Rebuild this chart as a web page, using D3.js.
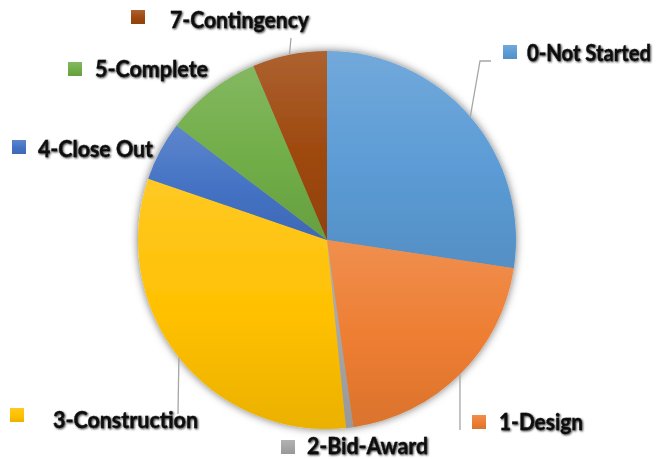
<!DOCTYPE html>
<html>
<head>
<meta charset="utf-8">
<script src="https://cdn.jsdelivr.net/npm/d3@7"></script>
<style>
  body { margin: 0; background: #fff; }
  svg { display: block; }
  .lbl { font-family: Lato, "Open Sans", sans-serif; font-weight: 700; font-size: 22.5px; fill: #0d0d0d; stroke: #0d0d0d; stroke-width: 0.35px; }
</style>
</head>
<body>
<svg id="chart" width="666" height="459"></svg>
<script>
"use strict";

// data (project counts by phase)
var phases = ["0-Not Started", "1-Design", "2-Bid-Award", "3-Construction", "4-Close Out", "5-Complete", "7-Contingency"]
var counts = [43, 32, 1, 50, 8, 13, 10]
var colors = ["#5B9BD5", "#ED7D31", "#A5A5A5", "#FFC000", "#4472C4", "#70AD47", "#9E480E"]

// label layout: text x / baseline, square x / y, text width, leader end points
var labelLayout = [
    {tx: 527, ty: 61, sx: 503, sy: 45, w: 124, leader: [[480, 61], [491, 61]]},
    {tx: 499, ty: 430, sx: 472, sy: 415, w: 84, leader: [[460, 430]]},
    {tx: 307, ty: 454, sx: 281, sy: 440, w: 121, leader: null},
    {tx: 53, ty: 428, sx: 10, sy: 408, w: 145, leader: [[178, 414]]},
    {tx: 38, ty: 157, sx: 12, sy: 140, w: 115, leader: null},
    {tx: 95, ty: 77, sx: 68, sy: 62, w: 113, leader: null},
    {tx: 170, ty: 28, sx: 131, sy: 10, w: 139, leader: [[291, 38]]}
]

var cx = 327, cy = 240, radius = 189

var svg = d3.select("#chart")
var defs = svg.append("defs")

var shadow = defs.append("filter").attr("id", "pieShadow")
    .attr("x", "-20%").attr("y", "-20%").attr("width", "140%").attr("height", "140%")
shadow.append("feDropShadow")
    .attr("dx", 0).attr("dy", 0).attr("stdDeviation", 4)
    .attr("flood-color", "#000").attr("flood-opacity", 0.55)

var glow = defs.append("filter").attr("id", "textGlow")
    .attr("x", "-5%").attr("y", "-30%").attr("width", "110%").attr("height", "160%")
glow.append("feGaussianBlur").attr("in", "SourceAlpha").attr("stdDeviation", 1.1).attr("result", "b")
glow.append("feOffset").attr("in", "b").attr("dx", 0.5).attr("dy", 0.8).attr("result", "o")
glow.append("feComponentTransfer").attr("in", "o").attr("result", "s")
    .append("feFuncA").attr("type", "linear").attr("slope", 0.8)
var merge = glow.append("feMerge")
merge.append("feMergeNode").attr("in", "s")
merge.append("feMergeNode").attr("in", "SourceGraphic")

// vertical light-to-dark gradient per colour
colors.forEach((c, i) => {
    var g = defs.append("linearGradient").attr("id", "grad" + i)
        .attr("x1", 0).attr("y1", 0).attr("x2", 0).attr("y2", 1)
    g.append("stop").attr("offset", "0%").attr("stop-color", d3.interpolateRgb(c, "#fff")(0.14))
    g.append("stop").attr("offset", "55%").attr("stop-color", c)
    g.append("stop").attr("offset", "100%").attr("stop-color", d3.interpolateRgb(c, "#000")(0.08))
})

var pie = d3.pie().sort(null).value(d => d)
var arcs = pie(counts)
var arc = d3.arc().innerRadius(0).outerRadius(radius)

var pieGroup = svg.append("g")
    .attr("transform", "translate(" + cx + "," + cy + ")")
    .attr("filter", "url(#pieShadow)")

pieGroup.selectAll("path")
    .data(arcs)
    .enter().append("path")
    .attr("d", arc)
    .style("fill", (d, i) => "url(#grad" + i + ")")

// leader lines from the middle of each slice's outer edge
var leaders = svg.append("g")
arcs.forEach((d, i) => {
    var lay = labelLayout[i]
    if (!lay.leader) return
    var mid = (d.startAngle + d.endAngle) / 2
    var start = [cx + radius * Math.sin(mid), cy - radius * Math.cos(mid)]
    leaders.append("path")
        .attr("d", d3.line()([start].concat(lay.leader)))
        .style("fill", "none")
        .style("stroke", "#A6A6A6")
        .style("stroke-width", 1.3)
})

var labels = svg.append("g")
phases.forEach((p, i) => {
    var lay = labelLayout[i]
    labels.append("rect")
        .attr("x", lay.sx).attr("y", lay.sy)
        .attr("width", 14).attr("height", 14)
        .style("fill", "url(#grad" + i + ")")
    labels.append("text")
        .attr("class", "lbl")
        .attr("x", lay.tx).attr("y", lay.ty)
        .attr("textLength", lay.w)
        .attr("lengthAdjust", "spacingAndGlyphs")
        .attr("filter", "url(#textGlow)")
        .text(p)
})
</script>
</body>
</html>
